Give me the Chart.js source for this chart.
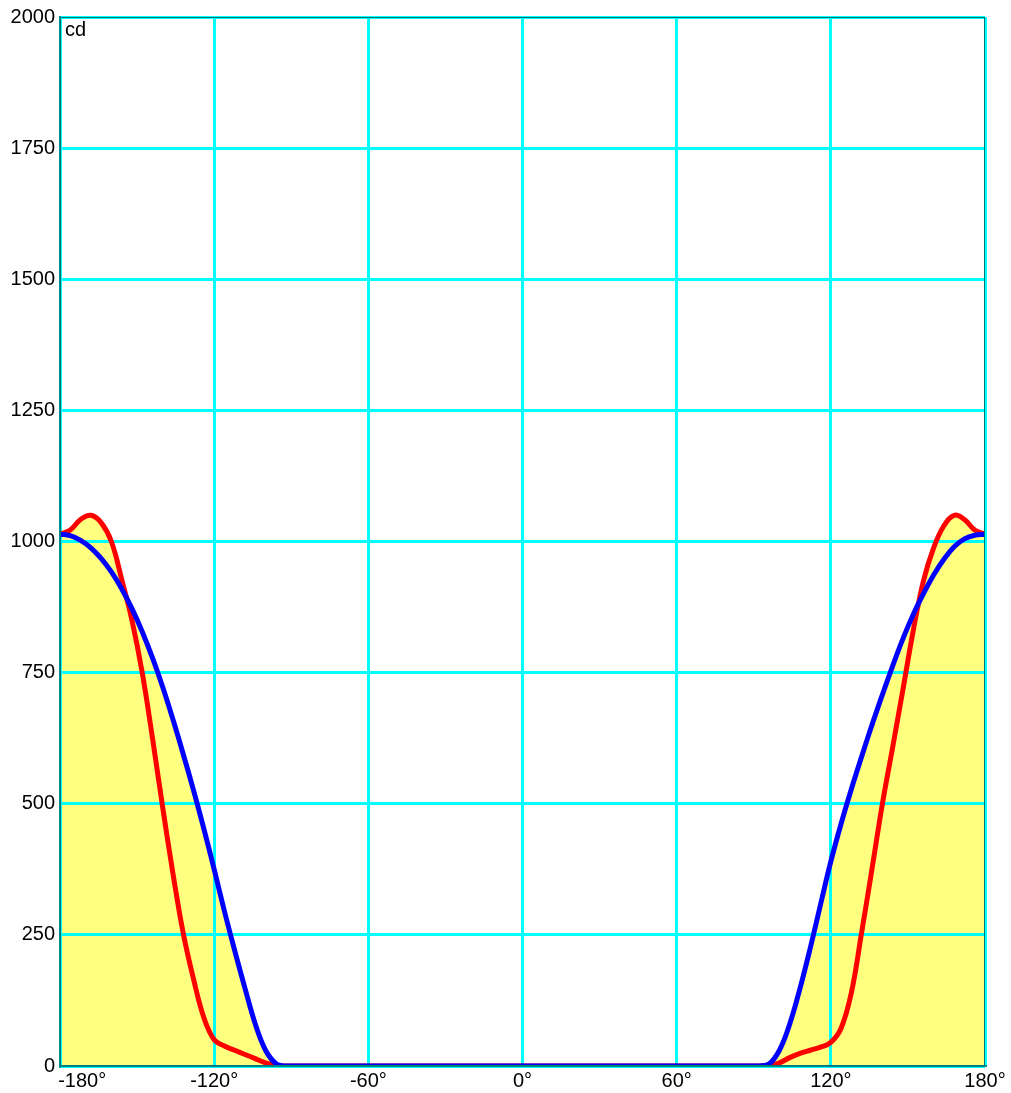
<!DOCTYPE html>
<html>
<head>
<meta charset="utf-8">
<script src="https://cdn.jsdelivr.net/npm/chart.js@4"></script>
<style>
  html, body { margin: 0; padding: 0; background: #fff; }
  #wrap { width: 1011px; height: 1093px; }
</style>
</head>
<body>
<div id="wrap"><canvas id="myChart"></canvas></div>
<script>
// angles in degrees (the gap -92..92 is all zero)
const angles = [-180, -176, -172, -168, -164, -160, -156, -152, -148, -144, -140, -136, -132, -128, -124, -120, -116, -112, -108, -104, -100, -96, -92,
                92, 96, 100, 104, 108, 112, 116, 120, 124, 128, 132, 136, 140, 144, 148, 152, 156, 160, 164, 168, 172, 176, 180];

// red curve, cd
const redValues = [1014, 1022, 1042, 1050, 1036, 1000, 928, 850, 750, 625, 492, 366, 252, 165, 92, 50, 38, 30, 22, 14, 6, 1, 0,
                   0, 1, 6, 16, 24, 30, 36, 45, 72, 140, 255, 375, 498, 606, 716, 828, 924, 988, 1030, 1050, 1042, 1022, 1014];

// blue curve, cd
const blueValues = [1014, 1011, 1002, 988, 968, 942, 910, 872, 828, 778, 722, 660, 594, 525, 452, 375, 295, 220, 148, 80, 30, 5, 0,
                    0, 4, 30, 80, 148, 225, 308, 390, 462, 528, 590, 650, 707, 762, 814, 860, 900, 936, 966, 990, 1005, 1012, 1014];

const yTicks = [0, 250, 500, 750, 1000, 1250, 1500, 1750, 2000];
const xTicks = [-180, -120, -60, 0, 60, 120, 180];
const unitLabel = 'cd';

const toPoints = vals => vals.map((v, i) => ({ x: angles[i], y: v }));
const envelope = redValues.map((v, i) => Math.max(v, blueValues[i]));

const FONT = { family: 'Liberation Sans, Arial, sans-serif', size: 20 };

// grid goes over the yellow area but under the curves
const gridOverFill = {
  id: 'gridOverFill',
  afterDatasetDraw(chart, args) {
    if (args.index !== 2) return;
    chart.scales.x.drawGrid(chart.chartArea);
    chart.scales.y.drawGrid(chart.chartArea);
    chart.scales.x.drawBorder();
    chart.scales.y.drawBorder();
  },
  afterDraw(chart) {
    const { ctx, chartArea } = chart;
    ctx.save();
    ctx.strokeStyle = '#007878';
    ctx.lineWidth = 1;
    ctx.strokeRect(chartArea.left + 0.5, chartArea.top + 0.5, chartArea.right - chartArea.left - 1, chartArea.bottom - chartArea.top - 1);
    ctx.fillStyle = '#000';
    ctx.font = FONT.size + 'px ' + FONT.family;
    ctx.textAlign = 'left';
    ctx.textBaseline = 'alphabetic';
    ctx.fillText(unitLabel, chartArea.left + 5, chartArea.top + 19);
    ctx.restore();
  }
};

const ctx = document.getElementById('myChart').getContext('2d');

const chart = new Chart(ctx, {
  type: 'line',
  data: {
    datasets: [{
      label: 'blue',
      data: toPoints(blueValues),
      borderColor: '#0000FF',
      borderWidth: 5,
      pointRadius: 0,
      tension: 0.4,
      fill: false
    },
    {
      label: 'red',
      data: toPoints(redValues),
      borderColor: '#FF0000',
      borderWidth: 5,
      pointRadius: 0,
      tension: 0.4,
      fill: false
    },
    {
      label: 'area',
      data: toPoints(envelope),
      borderWidth: 0,
      borderColor: 'rgba(0,0,0,0)',
      backgroundColor: '#FFFF80',
      pointRadius: 0,
      tension: 0.4,
      fill: 'origin'
    }]
  },
  options: {
    responsive: true,
    maintainAspectRatio: false,
    animation: false,
    layout: { padding: { top: 14, right: 26, left: 0, bottom: 0 } },
    plugins: {
      legend: { display: false },
      tooltip: { enabled: false }
    },
    scales: {
      x: {
        type: 'linear',
        min: -180,
        max: 180,
        afterFit: s => { s.height = 27; },
        afterBuildTicks: s => { s.ticks = xTicks.map(v => ({ value: v })); },
        grid: { color: '#00FFFF', lineWidth: 3, drawTicks: false },
        border: { color: '#008C8C', width: 2 },
        ticks: {
          color: '#000',
          font: FONT,
          padding: 3,
          maxRotation: 0,
          autoSkip: false,
          callback: v => (v === -180 ? '        ' : '') + v + '°'
        }
      },
      y: {
        min: 0,
        max: 2000,
        afterFit: s => { s.width = 60; },
        afterBuildTicks: s => { s.ticks = yTicks.map(v => ({ value: v })); },
        grid: { color: '#00FFFF', lineWidth: 3, drawTicks: false },
        border: { color: '#008C8C', width: 2 },
        ticks: {
          color: '#000',
          font: FONT,
          padding: 5,
          autoSkip: false,
          callback: v => String(v)
        }
      }
    }
  },
  plugins: [gridOverFill]
});
</script>
</body>
</html>
